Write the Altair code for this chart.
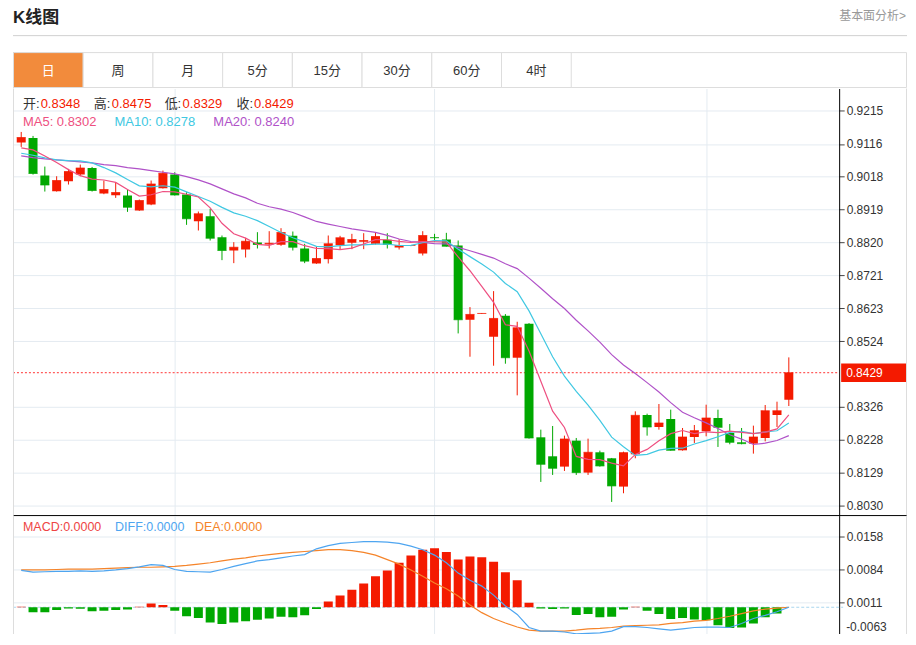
import altair as alt
import numpy as np
import pandas as pd

# ---------------- data ----------------
tabs = ["日", "周", "月", "5分", "15分", "30分", "60分", "4时"]
active_tab = "日"

opens = [0.9120, 0.9134, 0.9021, 0.8974, 0.9004, 0.9024, 0.9044, 0.8967, 0.8962, 0.8961,
         0.8916, 0.8934, 0.8983, 0.9024, 0.8964, 0.8884, 0.8899, 0.8836, 0.8796, 0.8799,
         0.8820, 0.8814, 0.8813, 0.8840, 0.8802, 0.8757, 0.8770, 0.8812, 0.8819, 0.8822,
         0.8816, 0.8828, 0.8805, 0.8810, 0.8787, 0.8836, 0.8829, 0.8811, 0.8588, 0.8606,
         0.8537, 0.8600, 0.8474, 0.8576, 0.8235, 0.8178, 0.8147, 0.8225, 0.8129, 0.8190,
         0.8172, 0.8087, 0.8184, 0.8302, 0.8266, 0.8290, 0.8196, 0.8236, 0.8253, 0.8293,
         0.8248, 0.8220, 0.8216, 0.8233, 0.8302, 0.8348]
highs = [0.9152, 0.9140, 0.9048, 0.9019, 0.9041, 0.9054, 0.9047, 0.9006, 0.8999, 0.8979,
         0.8949, 0.9006, 0.9036, 0.9031, 0.8971, 0.8913, 0.8921, 0.8841, 0.8821, 0.8834,
         0.8851, 0.8854, 0.8863, 0.8853, 0.8816, 0.8808, 0.8841, 0.8840, 0.8846, 0.8848,
         0.8850, 0.8848, 0.8830, 0.8812, 0.8854, 0.8846, 0.8849, 0.8826, 0.8626, 0.8608,
         0.8674, 0.8605, 0.8582, 0.8578, 0.8258, 0.8269, 0.8240, 0.8233, 0.8231, 0.8195,
         0.8173, 0.8192, 0.8313, 0.8306, 0.8335, 0.8318, 0.8263, 0.8272, 0.8333, 0.8318,
         0.8275, 0.8263, 0.8270, 0.8332, 0.8342, 0.8475]
lows = [0.9107, 0.9024, 0.8973, 0.8973, 0.8994, 0.9019, 0.8973, 0.8965, 0.8954, 0.8912,
        0.8915, 0.8932, 0.8982, 0.8961, 0.8873, 0.8856, 0.8826, 0.8767, 0.8758, 0.8775,
        0.8802, 0.8802, 0.8810, 0.8796, 0.8758, 0.8756, 0.8757, 0.8799, 0.8800, 0.8800,
        0.8814, 0.8802, 0.8799, 0.8809, 0.8781, 0.8821, 0.8808, 0.8547, 0.8477, 0.8606,
        0.8450, 0.8456, 0.8361, 0.8231, 0.8101, 0.8122, 0.8134, 0.8122, 0.8122, 0.8147,
        0.8041, 0.8067, 0.8172, 0.8240, 0.8258, 0.8195, 0.8195, 0.8218, 0.8238, 0.8206,
        0.8214, 0.8214, 0.8186, 0.8223, 0.8266, 0.8329]
closes = [0.9135, 0.9027, 0.8993, 0.9006, 0.9033, 0.9044, 0.8976, 0.8979, 0.8970, 0.8926,
          0.8946, 0.8996, 0.9028, 0.8963, 0.8891, 0.8906, 0.8833, 0.8796, 0.8806, 0.8824,
          0.8814, 0.8818, 0.8850, 0.8806, 0.8764, 0.8772, 0.8816, 0.8834, 0.8829, 0.8826,
          0.8838, 0.8814, 0.8811, 0.8811, 0.8841, 0.8834, 0.8809, 0.8588, 0.8604, 0.8607,
          0.8592, 0.8474, 0.8564, 0.8233, 0.8154, 0.8142, 0.8230, 0.8129, 0.8190, 0.8149,
          0.8089, 0.8189, 0.8301, 0.8266, 0.8278, 0.8196, 0.8236, 0.8255, 0.8293, 0.8265,
          0.8220, 0.8216, 0.8236, 0.8315, 0.8315, 0.8429]

# moving-average values at the left edge (history before the window)
ma5_head = [0.9104, 0.9098, 0.9080, 0.9060]
ma10_head = [0.9088, 0.9082, 0.9074, 0.9068, 0.9066, 0.9065, 0.9059, 0.9045, 0.9029]
ma20_head = [0.9080, 0.9075, 0.9071, 0.9068, 0.9065, 0.9062, 0.9059, 0.9054, 0.9051, 0.9045,
             0.9041, 0.9036, 0.9031, 0.9026, 0.9018, 0.9008, 0.8996, 0.8981, 0.8966]

macd_hist = [0.0001, -0.0011, -0.0011, -0.0006, -0.0003, -0.00035, -0.0009, -0.00075, -0.0006, -0.0005,
             0.0001, 0.00085, 0.0005, -0.00075, -0.0020, -0.0024, -0.0034, -0.0037, -0.0034, -0.0031,
             -0.0028, -0.0025, -0.0021, -0.0022, -0.0018, -0.0004, 0.0013, 0.0026, 0.0039, 0.0053,
             0.0069, 0.0082, 0.0099, 0.0115, 0.0128, 0.0131, 0.0123, 0.0106, 0.0113, 0.0111,
             0.0101, 0.0078, 0.0060, 0.0010, -0.0003, -0.0004, -0.0003, -0.0017, -0.0015, -0.0022,
             -0.0021, -0.0005, 0.0001, -0.0008, -0.0015, -0.0026, -0.0024, -0.0027, -0.0029, -0.0040,
             -0.0046, -0.0045, -0.0036, -0.0022, -0.0014, 0.0000]
diff_line = [0.0082, 0.0078, 0.0079, 0.0080, 0.0080, 0.0081, 0.0080, 0.0081, 0.0083, 0.0086,
             0.0090, 0.0095, 0.0093, 0.0084, 0.0080, 0.0079, 0.0078, 0.0084, 0.0091, 0.0097,
             0.0103, 0.0106, 0.0110, 0.0114, 0.0117, 0.0130, 0.0137, 0.0142, 0.0144, 0.0146,
             0.0146, 0.0145, 0.0142, 0.0136, 0.0128, 0.0116, 0.0099, 0.0076, 0.0060, 0.0047,
             0.0027, 0.0003, -0.0016, -0.0045, -0.0053, -0.0053, -0.0055, -0.0059, -0.0058, -0.0057,
             -0.0053, -0.0043, -0.0043, -0.0045, -0.0048, -0.0051, -0.0048, -0.0045, -0.0044, -0.0044,
             -0.0045, -0.0036, -0.0025, -0.0018, -0.0010, 0.0000]
dea_line = [0.0083, 0.0083, 0.0083, 0.0084, 0.0085, 0.0085, 0.0085, 0.0086, 0.0087, 0.0088,
            0.0089, 0.0089, 0.0090, 0.0091, 0.0093, 0.0096, 0.0099, 0.0103, 0.0107, 0.0110,
            0.0114, 0.0117, 0.0120, 0.0122, 0.0124, 0.0126, 0.0128, 0.0128, 0.0126, 0.0122,
            0.0116, 0.0106, 0.0096, 0.0083, 0.0069, 0.0054, 0.0041, 0.0025, 0.0005, -0.0012,
            -0.0025, -0.0035, -0.0044, -0.0051, -0.0053, -0.0053, -0.0053, -0.0051, -0.0048, -0.0047,
            -0.0045, -0.0042, -0.0041, -0.0040, -0.0039, -0.0036, -0.0034, -0.0031, -0.0029, -0.0025,
            -0.0020, -0.0014, -0.0008, -0.0004, -0.0002, 0.0000]

month_starts = [13, 35, 58]
price_ticks = [0.9215, 0.9116, 0.9018, 0.8919, 0.8820, 0.8721, 0.8623, 0.8524,
               0.8326, 0.8228, 0.8129, 0.8030]
macd_ticks = [0.0158, 0.0084, 0.0011, -0.0063]
macd_header = ["MACD:0.0000", "DIFF:0.0000", "DEA:0.0000"]

# ---------------- styles ----------------
RED = "#f41a00"
GREEN = "#00a800"
C_MA5 = "#ee4f80"
C_MA10 = "#40c8e2"
C_MA20 = "#b052c8"
C_DIFF = "#4ea5f0"
C_DEA = "#f5842a"
GRID = "#e4ebf1"
BORDER = "#dddddd"
ORANGE = "#f28b3c"
FONT = "Liberation Sans, Noto Sans CJK SC"

W = 828
H_HEAD = 80
H_MAIN = 428
H_MACD = 129
RIGHT = 896  # right edge of the page content (chart coordinates)

# ---------------- tables ----------------
n = len(closes)
df = pd.DataFrame({
    "i": list(range(n)), "open": opens, "high": highs, "low": lows, "close": closes,
    "hist": macd_hist, "diff": diff_line, "dea": dea_line,
})
cs = pd.Series(closes)


def moving(w, head):
    m = cs.rolling(w).mean()
    m.iloc[:len(head)] = head
    return m.round(5)


df["ma5"] = moving(5, ma5_head)
df["ma10"] = moving(10, ma10_head)
df["ma20"] = moving(20, ma20_head)
df["dir"] = np.where(df["close"] >= df["open"], "up", "down")
df["hdir"] = np.where(df["hist"] >= 0, "up", "down")
df["zero"] = 0.0
last = df.tail(1).reset_index(drop=True)
one = pd.DataFrame({"k": [0]})

# ---------------- scales / axes ----------------
xscale = alt.Scale(domain=[-0.275, 68.84], nice=False, zero=False)
xaxis = alt.Axis(values=month_starts, labels=False, ticks=False, domain=False,
                 grid=True, gridColor=GRID, title=None)


def X():
    return alt.X("i:Q", scale=xscale, axis=xaxis)


pscale = alt.Scale(domain=[0.8000, 0.92824], nice=False, zero=False)
paxis = alt.Axis(orient="right", values=price_ticks, format=".4f", grid=True, gridColor=GRID,
                 domainColor="#000", tickColor="#444", tickSize=5, labelPadding=2,
                 labelColor="#333", labelFontSize=12, labelFont=FONT, title=None)
# MACD panel: 0 sits ~92 px below its top
mscale = alt.Scale(domain=[-(H_MACD - 91.9) * 0.0002219, 91.9 * 0.0002219], nice=False, zero=False)
maxis = alt.Axis(orient="right", values=macd_ticks, format=".4f", grid=True, gridColor=GRID,
                 domainColor="#000", tickColor="#444", tickSize=5, labelPadding=2,
                 labelColor="#333", labelFontSize=12, labelFont=FONT, title=None,
                 labelExpr="datum.value < 0 ? '' : datum.label")


def PY(f):
    return alt.Y(f, scale=pscale, axis=paxis)


def MY(f):
    return alt.Y(f, scale=mscale, axis=maxis)


dir_color = alt.Color("dir:N", scale=alt.Scale(domain=["up", "down"], range=[RED, GREEN]), legend=None)
hdir_color = alt.Color("hdir:N", scale=alt.Scale(domain=["up", "down"], range=[RED, GREEN]), legend=None)


def txt(s, x, y, color, size=13, align="left", weight="normal", baseline="middle"):
    return alt.Chart(pd.DataFrame({"t": [s]})).mark_text(
        align=align, baseline=baseline, fontSize=size, color=color, font=FONT, fontWeight=weight
    ).encode(text="t:N", x=alt.value(x), y=alt.value(y))


def vline(x, y1, y2, color):
    return alt.Chart(one).mark_rule(color=color, strokeWidth=1).encode(
        x=alt.value(x), y=alt.value(y1), y2=alt.value(y2))


def hline(y, x1, x2, color):
    return alt.Chart(one).mark_rule(color=color, strokeWidth=1).encode(
        y=alt.value(y), x=alt.value(x1), x2=alt.value(x2))


# ---------------- header (title + tabs) ----------------
tabdf = pd.DataFrame({"tab": tabs})
tab_x = alt.X("tab:N", sort=tabs, scale=alt.Scale(domain=tabs, range=[0.5, 559.5], paddingInner=0, paddingOuter=0),
              axis=None)
tab_bg = alt.Chart(one).mark_rect(fill="white", stroke=BORDER, strokeWidth=1).encode(
    x=alt.value(0.5), x2=alt.value(RIGHT - 0.5), y=alt.value(44), y2=alt.value(79))
tab_rects = alt.Chart(tabdf).mark_rect(stroke=BORDER, strokeWidth=1).encode(
    x=tab_x, y=alt.value(44), y2=alt.value(79),
    fill=alt.condition(alt.datum.tab == active_tab, alt.value(ORANGE), alt.value("white")))
tab_text = alt.Chart(tabdf).mark_text(fontSize=13, font=FONT, baseline="middle").encode(
    x=tab_x, y=alt.value(62), text="tab:N",
    color=alt.condition(alt.datum.tab == active_tab, alt.value("white"), alt.value("#333")))

header = alt.layer(
    txt("K线图", 0, 14.5, "#222", 17, weight="bold", baseline="alphabetic"),
    txt("基本面分析>", RIGHT - 1, 11, "#999", 12, align="right", baseline="alphabetic"),
    hline(27, 0, RIGHT, "#d0d0d0"),
    tab_bg, tab_rects, tab_text,
).properties(width=W, height=H_HEAD)

# ---------------- main candlestick panel ----------------
price_line = alt.Chart(last).mark_rule(color="#f33", strokeDash=[2, 2], strokeWidth=1).encode(
    y=PY("close:Q"), x=alt.value(0), x2=alt.value(W))
wicks = alt.Chart(df).mark_rule(strokeWidth=1, clip=True).encode(
    x=X(), y=PY("low:Q"), y2="high:Q", color=dir_color)
bodies = alt.Chart(df).mark_bar(size=9, clip=True).encode(
    x=X(), y=PY("open:Q"), y2="close:Q", color=dir_color)
edges = alt.Chart(df).mark_tick(orient="horizontal", size=9, thickness=1, clip=True).encode(
    x=X(), y=PY("close:Q"), color=dir_color)
ma20 = alt.Chart(df).mark_line(color=C_MA20, strokeWidth=1.2, clip=True).encode(x=X(), y=PY("ma20:Q"))
ma10 = alt.Chart(df).mark_line(color=C_MA10, strokeWidth=1.2, clip=True).encode(x=X(), y=PY("ma10:Q"))
ma5 = alt.Chart(df).mark_line(color=C_MA5, strokeWidth=1.2, clip=True).encode(x=X(), y=PY("ma5:Q"))
price_box = alt.Chart(last).transform_calculate(
    top="datum.close + 0.00276", bot="datum.close - 0.00276"
).mark_rect(color=RED).encode(
    x=alt.value(830), x2=alt.value(RIGHT), y=PY("top:Q"), y2="bot:Q")
price_txt = alt.Chart(last).mark_text(align="left", baseline="middle", color="white",
                                      fontSize=12, font=FONT).encode(
    x=alt.value(835), y=PY("close:Q"), text=alt.Text("close:Q", format=".4f"))

lr = last.iloc[0]
ohlc = [("开:", 10, "%.4f" % lr["open"], 27.7),
        ("高:", 81, "%.4f" % lr["high"], 99),
        ("低:", 152, "%.4f" % lr["low"], 170),
        ("收:", 224, "%.4f" % lr["close"], 241.6)]
head_layers = []
for lab, lx, val, vx in ohlc:
    head_layers.append(txt(lab, lx, 16, "#333", 13))
    head_layers.append(txt(val, vx, 16, RED, 13))
head_layers.append(txt("MA5: %.4f" % lr["ma5"], 10, 34, C_MA5, 13))
head_layers.append(txt("MA10: %.4f" % lr["ma10"], 101.7, 34, C_MA10, 13))
head_layers.append(txt("MA20: %.4f" % lr["ma20"], 200.8, 34, C_MA20, 13))

main = alt.layer(
    price_line, wicks, bodies, edges, ma20, ma10, ma5, price_box, price_txt,
    *head_layers,
    vline(0.5, 0, H_MAIN, BORDER), vline(RIGHT - 0.5, 0, H_MAIN, BORDER),
    hline(H_MAIN, 0.5, RIGHT, "#000"),
).properties(width=W, height=H_MAIN)

# ---------------- MACD panel ----------------
zero_line = alt.Chart(last).mark_rule(color="#a9d6ee", strokeDash=[3, 2], strokeWidth=1).encode(
    y=MY("zero:Q"), x=alt.value(0), x2=alt.value(832))
bars = alt.Chart(df).mark_bar(size=9, clip=True).encode(
    x=X(), y=MY("hist:Q"), y2="zero:Q", color=hdir_color)
dea_l = alt.Chart(df).mark_line(color=C_DEA, strokeWidth=1.2, clip=True).encode(x=X(), y=MY("dea:Q"))
diff_l = alt.Chart(df).mark_line(color=C_DIFF, strokeWidth=1.2, clip=True).encode(x=X(), y=MY("diff:Q"))

macd = alt.layer(
    zero_line, bars, dea_l, diff_l,
    txt(macd_header[0], 10, 11.5, "#ee4444", 12.5),
    txt(macd_header[1], 102.3, 11.5, C_DIFF, 12.5),
    txt(macd_header[2], 182.3, 11.5, C_DEA, 12.5),
    # lowest MACD tick label, lifted so it stays inside the window
    txt("%.4f" % macd_ticks[-1], 835, 116, "#333", 12, baseline="alphabetic"),
    vline(0.5, 0, H_MACD, BORDER), vline(RIGHT - 0.5, 0, H_MACD, BORDER),
).properties(width=W, height=H_MACD)

# negative bottom padding trims the svg to the window so the page never overflows
chart = alt.vconcat(header, main, macd, spacing=0, bounds="flush").properties(
    padding={"left": 4, "top": 0, "right": 0, "bottom": -12}
).configure_view(stroke=None)

chart.save("out.html", embed_options={"renderer": "svg", "actions": False})
